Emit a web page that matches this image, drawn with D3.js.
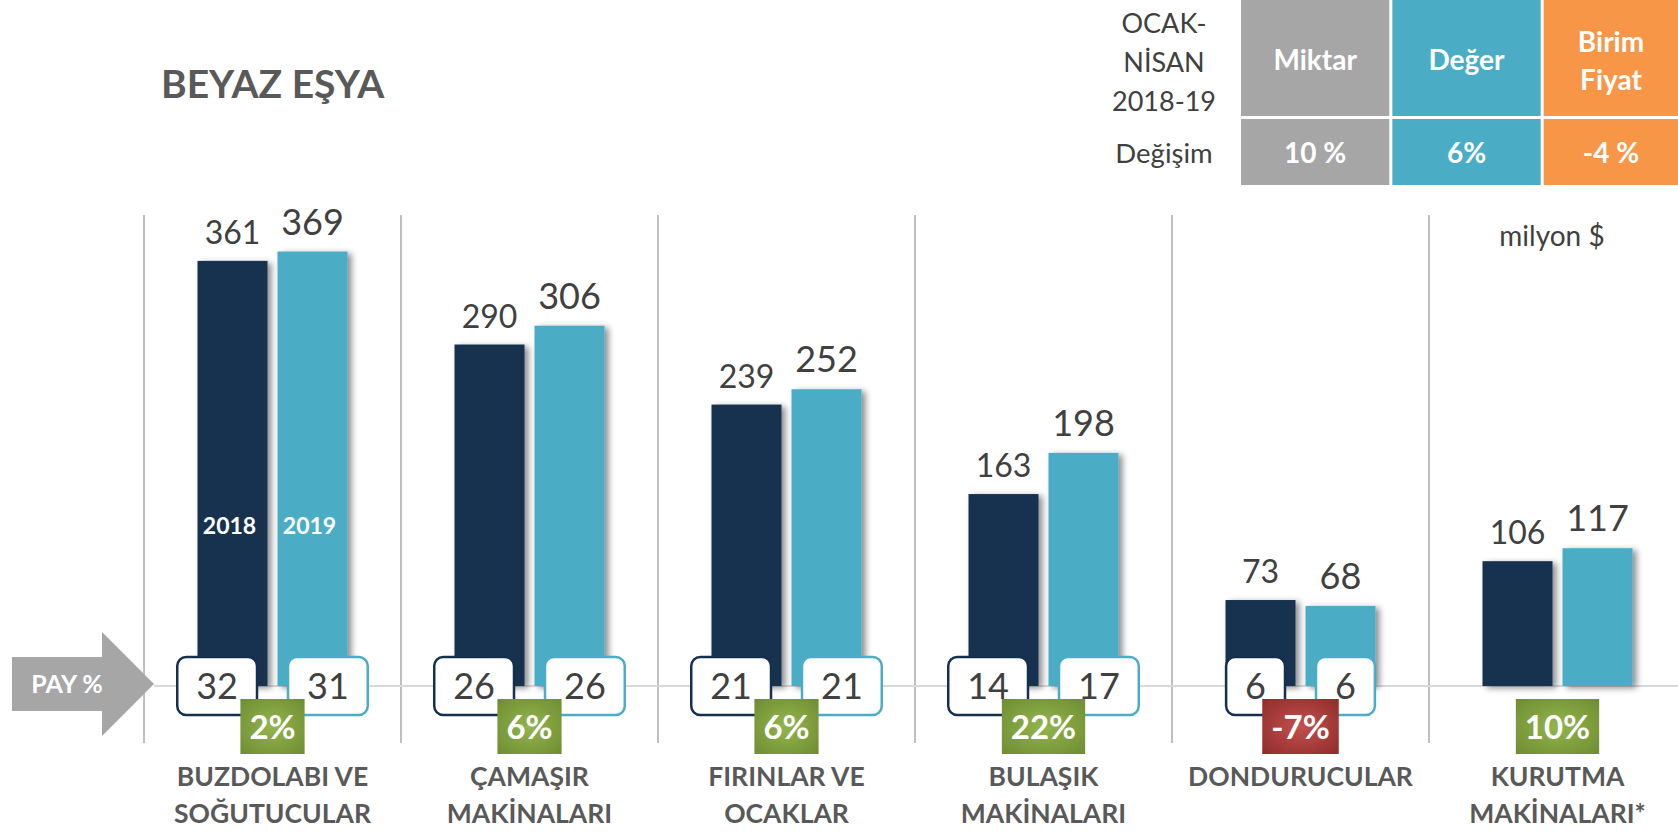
<!DOCTYPE html>
<html>
<head>
<meta charset="utf-8">
<script src="https://cdnjs.cloudflare.com/ajax/libs/d3/7.8.5/d3.min.js"></script>
<style>
  body { margin: 0; background: #fff; }
  svg text { font-family: Lato, "Open Sans", sans-serif; }
</style>
</head>
<body>
<script>
  // chart data
  const categories = [
    ["BUZDOLABI VE", "SOĞUTUCULAR"],
    ["ÇAMAŞIR", "MAKİNALARI"],
    ["FIRINLAR VE", "OCAKLAR"],
    ["BULAŞIK", "MAKİNALARI"],
    ["DONDURUCULAR"],
    ["KURUTMA", "MAKİNALARI*"]
  ];
  const years = ["2018", "2019"];
  const values2018 = [361, 290, 239, 163, 73, 106];
  const values2019 = [369, 306, 252, 198, 68, 117];
  const share2018 = [32, 26, 21, 14, 6, null];
  const share2019 = [31, 26, 21, 17, 6, null];
  const changePct = [2, 6, 6, 22, -7, 10];

  // summary table
  const periodLines = ["OCAK-", "NİSAN", "2018-19"];
  const changeLabel = "Değişim";
  const tableHeads = [["Miktar"], ["Değer"], ["Birim", "Fiyat"]];
  const tableValues = ["10 %", "6%", "-4 %"];

  const W = 1678, H = 832;
  const navy = "#15304f", teal = "#4bacc6", grey = "#595959", dark = "#404040";

  const svg = d3.select("body").append("svg")
    .attr("width", W).attr("height", H);

  const defs = svg.append("defs");
  const shadow = defs.append("filter").attr("id", "shadow")
    .attr("x", "-20%").attr("y", "-20%").attr("width", "150%").attr("height", "140%");
  shadow.append("feDropShadow")
    .attr("dx", 4).attr("dy", 2).attr("stdDeviation", 3)
    .attr("flood-color", "#000").attr("flood-opacity", 0.45);

  function radial(id, inner, outer) {
    const g = defs.append("radialGradient").attr("id", id).attr("r", "75%");
    g.append("stop").attr("offset", "0%").attr("stop-color", inner);
    g.append("stop").attr("offset", "100%").attr("stop-color", outer);
  }
  radial("green", "#93b54d", "#6c8a30");
  radial("red", "#c4504d", "#8a2a28");

  const x = d3.scaleBand().domain(d3.range(categories.length)).range([144, 144 + 6 * 257]);
  const xSub = d3.scaleBand().domain(years).range([0, 150]).paddingInner(0.125);
  const off = (x.bandwidth() - 150) / 2;
  const y = d3.scaleLinear().domain([0, 400]).range([686, 215]);

  // title
  svg.append("text")
    .attr("x", 161).attr("y", 98)
    .attr("font-size", 39).attr("font-weight", 700).attr("fill", grey)
    .text("BEYAZ EŞYA");

  // vertical separators
  svg.append("g").selectAll("line")
    .data(d3.range(categories.length))
    .join("line")
    .attr("x1", d => x(d)).attr("x2", d => x(d))
    .attr("y1", y(400)).attr("y2", 743)
    .attr("stroke", "#bfbfbf").attr("stroke-width", 2);

  // baseline
  svg.append("line")
    .attr("x1", 154).attr("x2", W)
    .attr("y1", y(0)).attr("y2", y(0))
    .attr("stroke", "#d9d9d9").attr("stroke-width", 2);

  // bars
  const rows = categories.map((c, i) => ({
    i,
    vals: [
      { year: "2018", v: values2018[i], share: share2018[i], color: navy, size: 32 },
      { year: "2019", v: values2019[i], share: share2019[i], color: teal, size: 36 }
    ]
  }));

  const groups = svg.append("g").selectAll("g")
    .data(rows)
    .join("g")
    .attr("transform", d => `translate(${x(d.i) + off},0)`);

  groups.selectAll("rect.bar")
    .data(d => d.vals)
    .join("rect")
    .attr("class", "bar")
    .attr("x", d => xSub(d.year))
    .attr("y", d => y(d.v))
    .attr("width", xSub.bandwidth())
    .attr("height", d => y(0) - y(d.v))
    .attr("fill", d => d.color)
    .attr("filter", "url(#shadow)");

  groups.selectAll("text.val")
    .data(d => d.vals)
    .join("text")
    .attr("class", "val")
    .attr("x", d => xSub(d.year) + xSub.bandwidth() / 2)
    .attr("y", d => y(d.v) - 17)
    .attr("text-anchor", "middle")
    .attr("font-size", d => d.size)
    .attr("fill", dark)
    .text(d => d.v);

  // year labels inside first group
  groups.filter(d => d.i === 0).selectAll("text.yr")
    .data(d => d.vals)
    .join("text")
    .attr("class", "yr")
    .attr("x", d => xSub(d.year) + xSub.bandwidth() / 2 - 3)
    .attr("y", 534)
    .attr("text-anchor", "middle")
    .attr("font-size", 23).attr("font-weight", 700).attr("fill", "#fff")
    .text(d => d.year);

  // share boxes
  groups.each(function (d) {
    const g = d3.select(this);
    d.vals.forEach((v, k) => {
      if (v.share == null) return;
      const t = g.append("text")
        .attr("y", 699)
        .attr("text-anchor", "middle")
        .attr("font-size", 36).attr("fill", dark)
        .text(v.share);
      const tw = t.node().getBBox().width;
      const bw = tw + 38;
      const cx = 75 + (k === 0 ? -(15.5 + bw / 2) : (15.5 + bw / 2));
      g.insert("rect", () => t.node())
        .attr("x", cx - bw / 2).attr("y", 657)
        .attr("width", bw).attr("height", 58)
        .attr("rx", 9)
        .attr("fill", "#fff")
        .attr("stroke", v.color).attr("stroke-width", 2.5);
      t.attr("x", cx);
    });
  });

  // change boxes
  groups.each(function (d) {
    const g = d3.select(this);
    const c = changePct[d.i];
    const t = g.append("text")
      .attr("x", 75).attr("y", 739)
      .attr("text-anchor", "middle")
      .attr("font-size", 33).attr("font-weight", 700).attr("fill", "#fff")
      .text(c + "%");
    const bw = t.node().getBBox().width + 18;
    g.insert("rect", () => t.node())
      .attr("x", 75 - bw / 2).attr("y", 699)
      .attr("width", bw).attr("height", 55)
      .attr("fill", c < 0 ? "url(#red)" : "url(#green)");
  });

  // category labels
  groups.selectAll("text.cat")
    .data(d => categories[d.i].map((line, j) => ({ line, j })))
    .join("text")
    .attr("class", "cat")
    .attr("x", 75)
    .attr("y", d => 786 + d.j * 37)
    .attr("text-anchor", "middle")
    .attr("font-size", 26.5).attr("font-weight", 700).attr("fill", grey)
    .text(d => d.line);

  // PAY % arrow
  svg.append("path")
    .attr("d", "M12,657 L102,657 L102,632 L154,684 L102,736 L102,711 L12,711 Z")
    .attr("fill", "#a6a6a6");
  svg.append("text")
    .attr("x", 67).attr("y", 693)
    .attr("text-anchor", "middle")
    .attr("font-size", 25).attr("font-weight", 700).attr("fill", "#fff")
    .text("PAY %");

  // unit
  svg.append("text")
    .attr("x", 1552).attr("y", 246)
    .attr("text-anchor", "middle")
    .attr("font-size", 28).attr("fill", dark)
    .text("milyon $");

  // summary table
  const colColors = ["#a6a6a6", "#4bacc6", "#f79646"];
  const tx = d3.scaleBand().domain(d3.range(3)).range([1241, 1692]).paddingInner(0.02);
  const tbl = svg.append("g");
  tbl.selectAll("rect.h")
    .data(tableHeads)
    .join("rect")
    .attr("x", (d, i) => tx(i)).attr("y", 0)
    .attr("width", tx.bandwidth()).attr("height", 116)
    .attr("fill", (d, i) => colColors[i]);
  tbl.selectAll("rect.v")
    .data(tableValues)
    .join("rect")
    .attr("x", (d, i) => tx(i)).attr("y", 119)
    .attr("width", tx.bandwidth()).attr("height", 66)
    .attr("fill", (d, i) => colColors[i]);

  tableHeads.forEach((lines, i) => {
    const cx = i === 2 ? 1611 : tx(i) + tx.bandwidth() / 2;
    lines.forEach((ln, j) => {
      tbl.append("text")
        .attr("x", cx)
        .attr("y", lines.length === 1 ? 70 : 52 + j * 38)
        .attr("text-anchor", "middle")
        .attr("font-size", 28).attr("font-weight", 700).attr("fill", "#fff")
        .text(ln);
    });
  });
  tableValues.forEach((v, i) => {
    const cx = i === 2 ? 1611 : tx(i) + tx.bandwidth() / 2;
    tbl.append("text")
      .attr("x", cx).attr("y", 163)
      .attr("text-anchor", "middle")
      .attr("font-size", 28).attr("font-weight", 700).attr("fill", "#fff")
      .text(v);
  });

  periodLines.forEach((ln, j) => {
    tbl.append("text")
      .attr("x", 1164).attr("y", 33 + j * 39)
      .attr("text-anchor", "middle")
      .attr("font-size", 27).attr("fill", dark)
      .text(ln);
  });
  tbl.append("text")
    .attr("x", 1164).attr("y", 163)
    .attr("text-anchor", "middle")
    .attr("font-size", 27.5).attr("fill", dark)
    .text(changeLabel);
</script>
</body>
</html>
